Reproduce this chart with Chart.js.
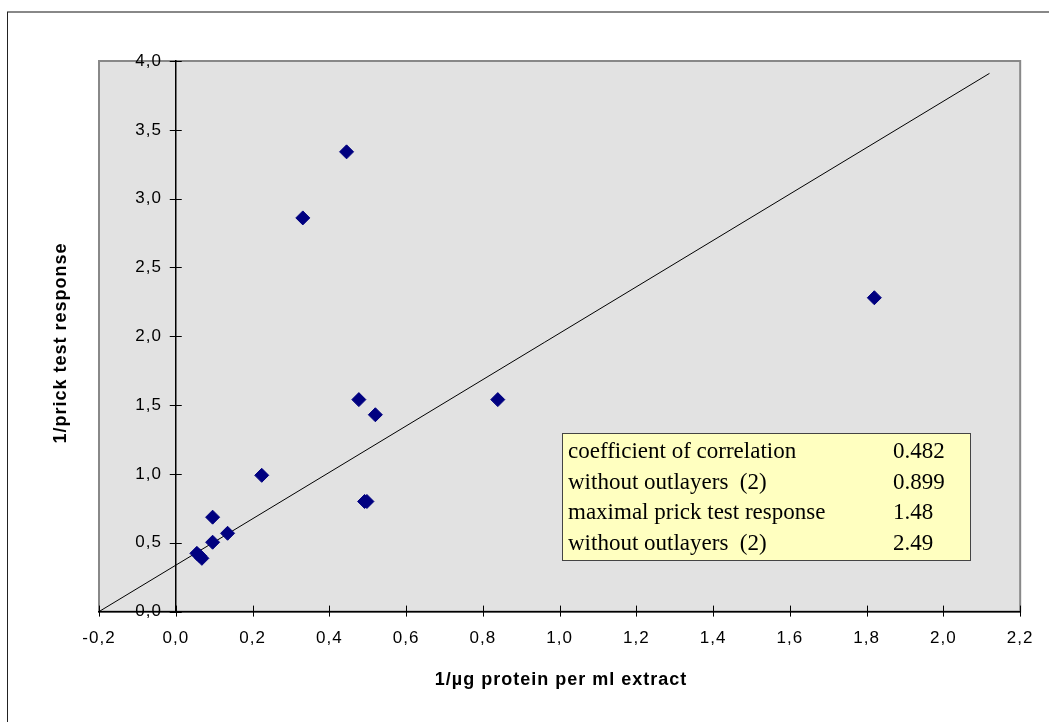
<!DOCTYPE html>
<html>
<head>
<meta charset="utf-8">
<script src="https://cdn.jsdelivr.net/npm/chart.js@4.4.0/dist/chart.umd.min.js"></script>
<style>
  html, body { margin: 0; padding: 0; background: #fff; }
  #wrap { width: 1049px; height: 722px; }
</style>
</head>
<body>
<div id="wrap"><canvas id="chart" width="1049" height="722"></canvas></div>
<script>
// measured extracts: 1/(µg protein per ml) against 1/(prick test response)
const proteinInv = [0.445, 0.331, 1.820, 0.477, 0.520, 0.839, 0.224, 0.492, 0.498, 0.096, 0.096, 0.135, 0.055, 0.062, 0.068];
const prickInv   = [3.34,  2.86,  2.28,  1.54,  1.43,  1.54,  0.99,  0.80,  0.80,  0.686, 0.504, 0.569, 0.423, 0.405, 0.387];

// regression line end points
const fitX = [-0.2, 2.12];
const fitY = [0.0, 3.91];

const xTickValues = [-0.2, 0, 0.2, 0.4, 0.6, 0.8, 1.0, 1.2, 1.4, 1.6, 1.8, 2.0, 2.2];
const yTickValues = [0, 0.5, 1.0, 1.5, 2.0, 2.5, 3.0, 3.5, 4.0];

const xTitle = '1/µg protein per ml extract';
const yTitle = '1/prick test response';

const statLabels = ['coefficient of correlation', 'without outlayers  (2)', 'maximal prick test response', 'without outlayers  (2)'];
const statValues = ['0.482', '0.899', '1.48', '2.49'];

const commaNum = v => Number(v).toFixed(1).replace('.', ',');

const scatterPoints = proteinInv.map((x, i) => ({ x: x, y: prickInv[i] }));
const fitPoints = fitX.map((x, i) => ({ x: x, y: fitY[i] }));

const decorPlugin = {
  id: 'decor',
  beforeDraw(chart) {
    const ctx = chart.ctx;
    const a = chart.chartArea;
    ctx.save();
    ctx.fillStyle = '#fff';
    ctx.fillRect(0, 0, chart.width, chart.height);
    // outer frame
    ctx.strokeStyle = '#888';
    ctx.lineWidth = 2;
    ctx.beginPath();
    ctx.moveTo(7, 12);
    ctx.lineTo(chart.width, 12);
    ctx.stroke();
    ctx.strokeStyle = '#222';
    ctx.lineWidth = 1;
    ctx.beginPath();
    ctx.moveTo(7.5, 12);
    ctx.lineTo(7.5, chart.height);
    ctx.stroke();
    // plot area
    ctx.fillStyle = '#e2e2e2';
    ctx.fillRect(a.left, a.top, a.right - a.left, a.bottom - a.top);
    ctx.strokeStyle = '#888';
    ctx.lineWidth = 2;
    ctx.strokeRect(a.left, a.top, a.right - a.left, a.bottom - a.top);
    ctx.restore();
    ctx.letterSpacing = '1px';
  },
  afterDraw(chart) {
    const ctx = chart.ctx;
    const xs = chart.scales.x;
    const ys = chart.scales.y;
    const x0 = xs.getPixelForValue(0);
    ctx.save();
    ctx.letterSpacing = '0px';
    // tick marks crossing the axes
    ctx.strokeStyle = '#000';
    ctx.lineWidth = 1;
    ctx.beginPath();
    xTickValues.forEach(v => {
      const px = Math.round(xs.getPixelForValue(v)) + 0.5;
      ctx.moveTo(px, xs.top - 6);
      ctx.lineTo(px, xs.top + 5);
    });
    yTickValues.forEach(v => {
      const py = Math.round(ys.getPixelForValue(v)) + 0.5;
      ctx.moveTo(x0 - 6, py);
      ctx.lineTo(x0 + 6, py);
    });
    ctx.stroke();

    // statistics box
    const bx = 562.5, by = 433.5, bw = 408, bh = 127;
    ctx.fillStyle = '#ffffc0';
    ctx.fillRect(bx, by, bw, bh);
    ctx.strokeStyle = '#444';
    ctx.strokeRect(bx, by, bw, bh);
    ctx.fillStyle = '#000';
    ctx.font = '23px "Liberation Serif", "Times New Roman", serif';
    ctx.textBaseline = 'alphabetic';
    ctx.textAlign = 'left';
    statLabels.forEach((t, i) => {
      const y = 458 + i * 30.6;
      ctx.fillText(t, 568, y);
      ctx.fillText(statValues[i], 893, y);
    });

    // axis titles
    ctx.letterSpacing = '1px';
    ctx.font = 'bold 18px "Liberation Sans", Arial, sans-serif';
    ctx.textAlign = 'center';
    ctx.textBaseline = 'middle';
    ctx.fillText(xTitle, 561, 680);
    ctx.translate(61, 343);
    ctx.rotate(-Math.PI / 2);
    ctx.fillText(yTitle, 0, 0);
    ctx.restore();
  }
};

const tickFont = { family: '"Liberation Sans", Arial, sans-serif', size: 17 };

new Chart(document.getElementById('chart'), {
  type: 'scatter',
  data: {
    datasets: [
      {
        data: scatterPoints,
        pointStyle: 'rectRot',
        pointRadius: 7,
        pointHoverRadius: 7,
        backgroundColor: '#000080',
        borderColor: '#000080',
        borderWidth: 1,
        order: 1
      },
      {
        data: fitPoints,
        showLine: true,
        borderColor: '#000',
        borderWidth: 1,
        pointRadius: 0,
        order: 2
      }
    ]
  },
  options: {
    responsive: false,
    animation: false,
    devicePixelRatio: 1,
    layout: { padding: { left: 99, top: 61, right: 28, bottom: 56 } },
    plugins: {
      legend: { display: false },
      tooltip: { enabled: false }
    },
    scales: {
      x: {
        type: 'linear',
        position: 'bottom',
        min: -0.2,
        max: 2.2,
        afterBuildTicks: s => { s.ticks = xTickValues.map(v => ({ value: v })); },
        ticks: {
          callback: v => commaNum(v),
          font: tickFont,
          color: '#000',
          padding: 17,
          maxRotation: 0,
          autoSkip: false
        },
        grid: { drawOnChartArea: false, drawTicks: false },
        border: { color: '#000', width: 1.5 }
      },
      y: {
        type: 'linear',
        position: { x: 0 },
        min: 0,
        max: 4,
        afterBuildTicks: s => { s.ticks = yTickValues.map(v => ({ value: v })); },
        ticks: {
          // labels sit right against the axis at x = 0, so pad them with spaces
          callback: v => commaNum(v) + '  \u200A',
          font: tickFont,
          color: '#000',
          autoSkip: false
        },
        grid: { drawOnChartArea: false, drawTicks: false },
        border: { color: '#000', width: 1.5 }
      }
    }
  },
  plugins: [decorPlugin]
});
</script>
</body>
</html>
